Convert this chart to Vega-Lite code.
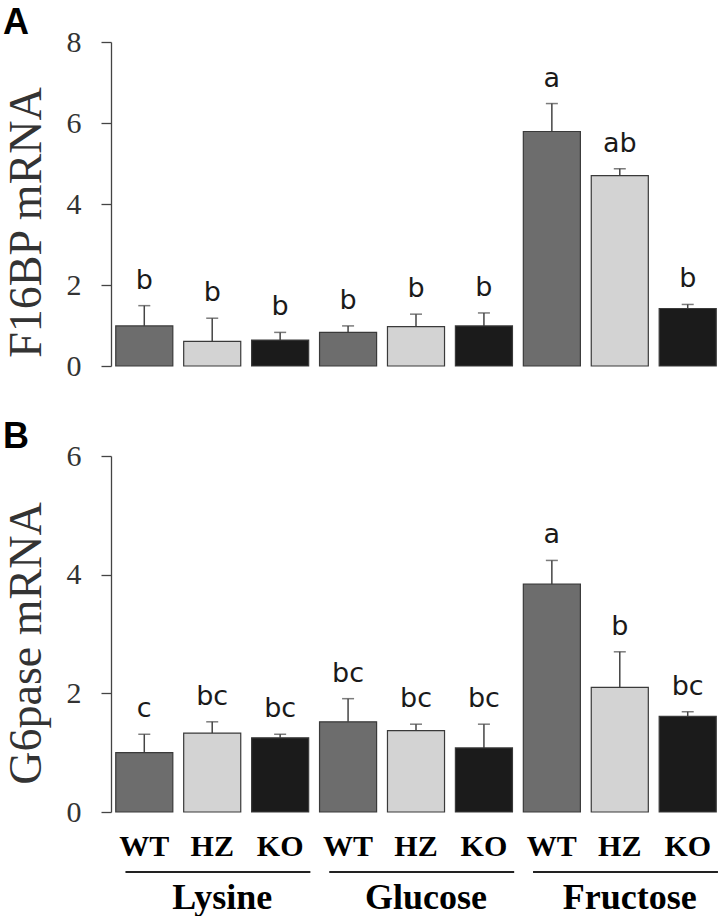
{
  "$schema": "https://vega.github.io/schema/vega-lite/v6.json",
  "background": "white",
  "padding": {"left": 3, "top": 5, "right": 0, "bottom": 0},
  "config": {
    "view": {"stroke": null},
    "title": {"font": "Liberation Sans", "fontSize": 36, "fontWeight": "bold", "color": "black", "anchor": "start", "offset": -15},
    "axisY": {
      "grid": false, "domainColor": "#444444", "domainWidth": 1.3, "tickColor": "#444444", "tickWidth": 1.3, "tickSize": 10,
      "labelFont": "Liberation Serif", "labelFontSize": 30, "labelColor": "#333333", "labelPadding": 20, "format": "d",
      "titleFont": "Liberation Serif", "titleFontSize": 46, "titleFontWeight": "normal", "titleColor": "#333333", "titlePadding": 16
    }
  },
  "datasets": {
    "f16bp": [
      {"cond": "Lysine-WT", "genotype": "WT", "diet": "Lysine", "value": 0.99, "upper": 1.49, "letter": "b"},
      {"cond": "Lysine-HZ", "genotype": "HZ", "diet": "Lysine", "value": 0.61, "upper": 1.18, "letter": "b"},
      {"cond": "Lysine-KO", "genotype": "KO", "diet": "Lysine", "value": 0.64, "upper": 0.83, "letter": "b"},
      {"cond": "Glucose-WT", "genotype": "WT", "diet": "Glucose", "value": 0.83, "upper": 0.99, "letter": "b"},
      {"cond": "Glucose-HZ", "genotype": "HZ", "diet": "Glucose", "value": 0.97, "upper": 1.28, "letter": "b"},
      {"cond": "Glucose-KO", "genotype": "KO", "diet": "Glucose", "value": 0.99, "upper": 1.31, "letter": "b"},
      {"cond": "Fructose-WT", "genotype": "WT", "diet": "Fructose", "value": 5.79, "upper": 6.48, "letter": "a"},
      {"cond": "Fructose-HZ", "genotype": "HZ", "diet": "Fructose", "value": 4.70, "upper": 4.87, "letter": "ab"},
      {"cond": "Fructose-KO", "genotype": "KO", "diet": "Fructose", "value": 1.42, "upper": 1.52, "letter": "b"}
    ],
    "g6pase": [
      {"cond": "Lysine-WT", "genotype": "WT", "diet": "Lysine", "value": 1.00, "upper": 1.31, "letter": "c"},
      {"cond": "Lysine-HZ", "genotype": "HZ", "diet": "Lysine", "value": 1.33, "upper": 1.52, "letter": "bc"},
      {"cond": "Lysine-KO", "genotype": "KO", "diet": "Lysine", "value": 1.25, "upper": 1.31, "letter": "bc"},
      {"cond": "Glucose-WT", "genotype": "WT", "diet": "Glucose", "value": 1.52, "upper": 1.91, "letter": "bc"},
      {"cond": "Glucose-HZ", "genotype": "HZ", "diet": "Glucose", "value": 1.37, "upper": 1.48, "letter": "bc"},
      {"cond": "Glucose-KO", "genotype": "KO", "diet": "Glucose", "value": 1.08, "upper": 1.48, "letter": "bc"},
      {"cond": "Fructose-WT", "genotype": "WT", "diet": "Fructose", "value": 3.84, "upper": 4.24, "letter": "a"},
      {"cond": "Fructose-HZ", "genotype": "HZ", "diet": "Fructose", "value": 2.10, "upper": 2.70, "letter": "b"},
      {"cond": "Fructose-KO", "genotype": "KO", "diet": "Fructose", "value": 1.61, "upper": 1.69, "letter": "bc"}
    ],
    "groups": [
      {"diet": "Lysine", "first": "Lysine-WT", "mid": "Lysine-HZ", "last": "Lysine-KO"},
      {"diet": "Glucose", "first": "Glucose-WT", "mid": "Glucose-HZ", "last": "Glucose-KO"},
      {"diet": "Fructose", "first": "Fructose-WT", "mid": "Fructose-HZ", "last": "Fructose-KO"}
    ]
  },
  "spacing": 38,
  "vconcat": [
    {
      "vconcat": [
        {
          "title": {"text": "A"},
          "width": 610,
          "height": 324,
          "data": {"name": "f16bp"},
          "encoding": {
            "x": {"field": "cond", "type": "nominal", "axis": null,
                  "scale": {"domain": ["Lysine-WT","Lysine-HZ","Lysine-KO","Glucose-WT","Glucose-HZ","Glucose-KO","Fructose-WT","Fructose-HZ","Fructose-KO"], "paddingInner": 0.16, "paddingOuter": 0.07}}
          },
          "layer": [
            {
              "mark": {"type": "rule", "stroke": "#444444", "strokeWidth": 1.5},
              "encoding": {"y": {"field": "value", "type": "quantitative"}, "y2": {"field": "upper"}}
            },
            {
              "mark": {"type": "tick", "color": "#444444", "size": 12, "thickness": 1.5},
              "encoding": {"y": {"field": "upper", "type": "quantitative"}}
            },
            {
              "mark": {"type": "bar", "stroke": "#3a3a3a", "strokeWidth": 1.2},
              "encoding": {
                "y": {"field": "value", "type": "quantitative", "title": "F16BP mRNA",
                      "scale": {"domain": [0, 8], "nice": false},
                      "axis": {"values": [0, 2, 4, 6, 8], "titleY": 180}},
                "color": {"field": "genotype", "type": "nominal", "legend": null,
                          "scale": {"domain": ["WT", "HZ", "KO"], "range": ["#6d6d6d", "#d3d3d3", "#1b1b1b"]}}
              }
            },
            {
              "mark": {"type": "text", "font": "DejaVu Sans", "fontSize": 27, "color": "#1a1a1a", "baseline": "alphabetic", "dy": -17},
              "encoding": {"y": {"field": "upper", "type": "quantitative"}, "text": {"field": "letter"}}
            }
          ]
        }
      ]
    },
    {
      "spacing": 0,
      "vconcat": [
        {
          "title": {"text": "B"},
          "width": 610,
          "height": 356,
          "data": {"name": "g6pase"},
          "encoding": {
            "x": {"field": "cond", "type": "nominal", "title": null,
                  "scale": {"domain": ["Lysine-WT","Lysine-HZ","Lysine-KO","Glucose-WT","Glucose-HZ","Glucose-KO","Fructose-WT","Fructose-HZ","Fructose-KO"], "paddingInner": 0.16, "paddingOuter": 0.07},
                  "axis": {"labelExpr": "split(datum.value, '-')[1]", "domain": false, "ticks": false, "labelAngle": 0,
                           "labelFont": "Liberation Serif", "labelFontWeight": "bold", "labelFontSize": 30, "labelColor": "black", "labelPadding": 19}}
          },
          "layer": [
            {
              "mark": {"type": "rule", "stroke": "#444444", "strokeWidth": 1.5},
              "encoding": {"y": {"field": "value", "type": "quantitative"}, "y2": {"field": "upper"}}
            },
            {
              "mark": {"type": "tick", "color": "#444444", "size": 12, "thickness": 1.5},
              "encoding": {"y": {"field": "upper", "type": "quantitative"}}
            },
            {
              "mark": {"type": "bar", "stroke": "#3a3a3a", "strokeWidth": 1.2},
              "encoding": {
                "y": {"field": "value", "type": "quantitative", "title": "G6pase mRNA",
                      "scale": {"domain": [0, 6], "nice": false},
                      "axis": {"values": [0, 2, 4, 6], "titleY": 187}},
                "color": {"field": "genotype", "type": "nominal", "legend": null,
                          "scale": {"domain": ["WT", "HZ", "KO"], "range": ["#6d6d6d", "#d3d3d3", "#1b1b1b"]}}
              }
            },
            {
              "mark": {"type": "text", "font": "DejaVu Sans", "fontSize": 27, "color": "#1a1a1a", "baseline": "alphabetic", "dy": -17},
              "encoding": {"y": {"field": "upper", "type": "quantitative"}, "text": {"field": "letter"}}
            }
          ]
        },
        {
          "width": 610,
          "height": 22,
          "data": {"name": "groups"},
          "layer": [
            {
              "mark": {"type": "rule", "stroke": "#222222", "strokeWidth": 2},
              "encoding": {
                "x": {"field": "first", "type": "nominal", "bandPosition": 0.17, "axis": null,
                      "scale": {"domain": ["Lysine-WT","Lysine-HZ","Lysine-KO","Glucose-WT","Glucose-HZ","Glucose-KO","Fructose-WT","Fructose-HZ","Fructose-KO"], "paddingInner": 0.16, "paddingOuter": 0.07}},
                "x2": {"field": "last", "bandPosition": 1.03}
              }
            },
            {
              "mark": {"type": "text", "font": "Liberation Serif", "fontWeight": "bold", "fontSize": 36, "color": "black", "baseline": "top", "dy": 9, "dx": 10},
              "encoding": {
                "x": {"field": "mid", "type": "nominal", "axis": null,
                      "scale": {"domain": ["Lysine-WT","Lysine-HZ","Lysine-KO","Glucose-WT","Glucose-HZ","Glucose-KO","Fructose-WT","Fructose-HZ","Fructose-KO"], "paddingInner": 0.16, "paddingOuter": 0.07}},
                "text": {"field": "diet"}
              }
            }
          ]
        }
      ]
    }
  ]
}
